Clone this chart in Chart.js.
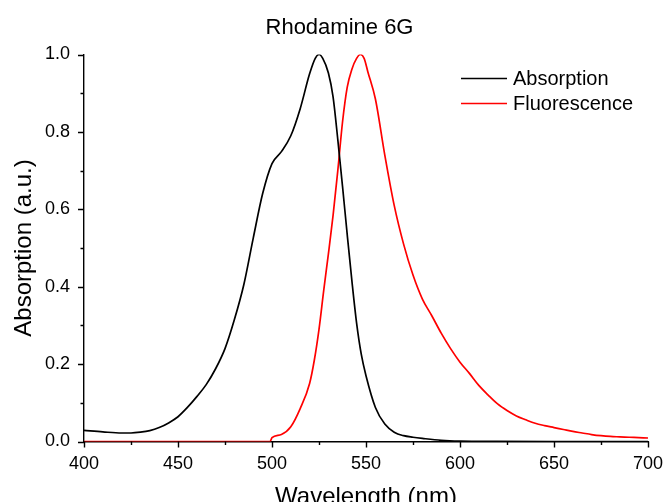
<!DOCTYPE html>
<html>
<head>
<meta charset="utf-8">
<script src="https://cdn.jsdelivr.net/npm/chart.js@4/dist/chart.umd.min.js"></script>
<style>
  html, body { margin: 0; padding: 0; background: #fff; overflow: hidden; }
  #wrap { width: 665px; height: 512px; }
</style>
</head>
<body>
<div id="wrap"><canvas id="spectrum" width="665" height="512"></canvas></div>
<script>
// Rhodamine 6G spectra
const absWavelength = [400, 410, 420, 425, 430, 435, 440, 445, 450, 455, 460, 465, 470, 475, 480,
    485, 490, 495, 500, 505, 510, 515, 520, 523, 525, 527, 530, 532.5, 535, 537.5, 540, 542.5,
    545, 547.5, 550, 555, 560, 565, 570, 575, 580, 590, 600, 620, 650, 700];
const absValues = [0.029, 0.025, 0.022, 0.022, 0.024, 0.028, 0.036, 0.048, 0.064, 0.088, 0.116, 0.147,
    0.188, 0.24, 0.315, 0.405, 0.525, 0.64, 0.718, 0.749, 0.79, 0.86, 0.95, 0.99, 1.0, 0.99, 0.952,
    0.89, 0.78, 0.66, 0.535, 0.415, 0.306, 0.225, 0.17, 0.088, 0.045, 0.024, 0.015, 0.011, 0.008,
    0.003, 0.001, 0.0003, 0, 0];

const fluWavelength = [400, 499, 500, 505, 510, 515, 520, 522.5, 525, 527.5, 530, 532.5, 535, 537.5,
    540, 542.5, 545, 547, 549, 551, 555, 560, 565, 570, 575, 580, 585, 590, 595, 600, 605, 610, 615,
    620, 625, 630, 635, 640, 645, 650, 655, 660, 665, 670, 675, 680, 685, 690, 695, 700];
const fluValues = [0, 0, 0.01, 0.018, 0.038, 0.085, 0.15, 0.21, 0.29, 0.39, 0.485, 0.585, 0.70, 0.825,
    0.915, 0.962, 0.99, 1.0, 0.99, 0.955, 0.885, 0.74, 0.61, 0.51, 0.43, 0.368, 0.325, 0.28, 0.24,
    0.205, 0.176, 0.145, 0.12, 0.097, 0.08, 0.066, 0.056, 0.047, 0.041, 0.036, 0.031, 0.026, 0.022,
    0.018, 0.015, 0.013, 0.012, 0.011, 0.010, 0.009];

const seriesNames = ['Absorption', 'Fluorescence'];
const seriesColours = ['#000000', '#ff0000'];

const fontFamily = "'Liberation Sans', Arial, sans-serif";

function toPoints(xs, ys) {
    return xs.map((x, i) => ({ x: x, y: ys[i] }));
}

// title, legend and the outward major/minor ticks (Origin style)
const decor = {
    id: 'decor',
    afterDraw(chart) {
        const ctx = chart.ctx;
        const xs = chart.scales.x;
        const ys = chart.scales.y;
        ctx.save();
        ctx.strokeStyle = '#000';
        ctx.lineWidth = 1.4;
        ctx.beginPath();
        xs.ticks.forEach(t => {
            const px = Math.round(xs.getPixelForValue(t.value)) + 0.5;
            const len = t.value % 50 === 0 ? 6 : 3.5;
            ctx.moveTo(px, xs.top);
            ctx.lineTo(px, xs.top + len);
        });
        ys.ticks.forEach(t => {
            const py = Math.round(ys.getPixelForValue(t.value)) + 0.5;
            const len = Math.round(t.value * 10) % 2 === 0 ? 6 : 3.5;
            ctx.moveTo(ys.right, py);
            ctx.lineTo(ys.right - len, py);
        });
        ctx.stroke();

        // title
        ctx.fillStyle = '#000';
        ctx.font = '22px ' + fontFamily;
        ctx.textAlign = 'center';
        ctx.textBaseline = 'alphabetic';
        ctx.fillText('Rhodamine 6G', 339.5, 33.5);

        // legend inside the plot
        ctx.font = '20px ' + fontFamily;
        ctx.textAlign = 'left';
        ctx.textBaseline = 'middle';
        chart.data.datasets.forEach((ds, i) => {
            const ly = 78.5 + i * 25;
            ctx.strokeStyle = ds.borderColor;
            ctx.lineWidth = 1.7;
            ctx.beginPath();
            ctx.moveTo(461, ly);
            ctx.lineTo(507, ly);
            ctx.stroke();
            ctx.fillStyle = '#000';
            ctx.fillText(ds.label, 513, ly + 1);
        });
        ctx.restore();
    }
};

const ctx = document.getElementById('spectrum').getContext('2d');
new Chart(ctx, {
    type: 'line',
    data: {
        datasets: [
            {
                label: seriesNames[0],
                data: toPoints(absWavelength, absValues),
                borderColor: seriesColours[0],
                borderWidth: 1.7,
                pointRadius: 0,
                cubicInterpolationMode: 'monotone',
                fill: false
            },
            {
                label: seriesNames[1],
                data: toPoints(fluWavelength, fluValues),
                borderColor: seriesColours[1],
                borderWidth: 1.7,
                pointRadius: 0,
                cubicInterpolationMode: 'monotone',
                fill: false
            }
        ]
    },
    options: {
        responsive: false,
        animation: false,
        devicePixelRatio: 1,
        layout: { padding: { top: 54.5, right: 17, left: 0, bottom: 0 } },
        plugins: {
            legend: { display: false },
            title: { display: false },
            tooltip: { enabled: false }
        },
        scales: {
            x: {
                type: 'linear',
                min: 400,
                max: 700,
                afterFit: scale => { scale.height = 70.5; },
                border: { display: true, color: '#000', width: 1.4 },
                // tick marks are drawn by the decor plugin, tickLength only spaces the labels
                grid: { drawOnChartArea: false, drawTicks: true, tickLength: 12, tickColor: 'rgba(0,0,0,0)' },
                ticks: {
                    stepSize: 25,
                    autoSkip: false,
                    maxRotation: 0,
                    padding: 0,
                    color: '#000',
                    font: { family: fontFamily, size: 18 },
                    callback: v => (v % 50 === 0 ? v : '')
                },
                title: {
                    display: true,
                    text: 'Wavelength (nm)',
                    color: '#000',
                    font: { family: fontFamily, size: 24 },
                    padding: { top: 0, bottom: 0.5 }
                }
            },
            y: {
                min: 0,
                max: 1.0,
                afterFit: scale => { scale.width = 84; },
                border: { display: true, color: '#000', width: 1.4 },
                grid: { drawOnChartArea: false, drawTicks: true, tickLength: 6, tickColor: 'rgba(0,0,0,0)' },
                ticks: {
                    stepSize: 0.1,
                    autoSkip: false,
                    padding: 8,
                    color: '#000',
                    font: { family: fontFamily, size: 18 },
                    callback: v => (Math.round(v * 10) % 2 === 0 ? v.toFixed(1) : '')
                },
                title: {
                    display: true,
                    text: 'Absorption (a.u.)',
                    color: '#000',
                    font: { family: fontFamily, size: 24 },
                    padding: { top: 10, bottom: 0 }
                }
            }
        }
    },
    plugins: [decor]
});
</script>
</body>
</html>
